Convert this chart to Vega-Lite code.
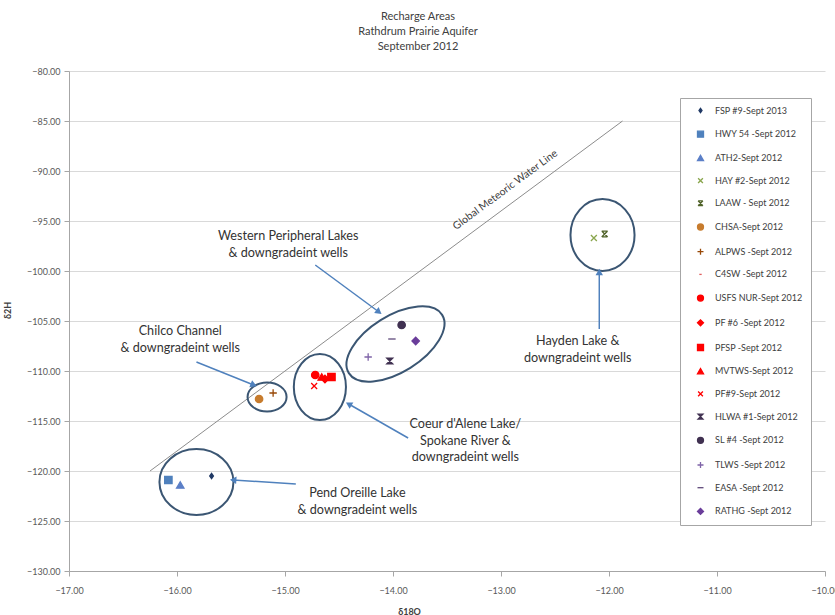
{
  "$schema": "https://vega.github.io/schema/vega-lite/v6.json",
  "width": 756,
  "height": 500,
  "autosize": {"type": "none"},
  "padding": {"left": 69, "top": 71, "right": 10, "bottom": 44},
  "background": "white",
  "config": {"view": {"stroke": null}, "font": "Lato"},
  "title": {
    "text": ["Recharge Areas", "Rathdrum  Prairie Aquifer", "September  2012"],
    "fontSize": 11,
    "fontWeight": "normal",
    "font": "Lato",
    "color": "#404040",
    "lineHeight": 15,
    "anchor": "middle",
    "dx": -29,
    "offset": 15
  },
  "datasets": {
    "samples": [
      {"series": "FSP #9-Sept 2013", "d18O": -15.68, "d2H": -120.5},
      {"series": "HWY 54 -Sept 2012", "d18O": -16.08, "d2H": -120.9},
      {"series": "ATH2-Sept 2012", "d18O": -15.97, "d2H": -121.4},
      {"series": "HAY #2-Sept 2012", "d18O": -12.14, "d2H": -96.7},
      {"series": "LAAW - Sept 2012", "d18O": -12.04, "d2H": -96.3},
      {"series": "CHSA-Sept 2012", "d18O": -15.24, "d2H": -112.8},
      {"series": "ALPWS -Sept 2012", "d18O": -15.11, "d2H": -112.2},
      {"series": "C4SW -Sept 2012", "d18O": -14.6, "d2H": -110.9},
      {"series": "USFS NUR-Sept 2012", "d18O": -14.72, "d2H": -110.4},
      {"series": "PF #6 -Sept 2012", "d18O": -14.63, "d2H": -110.8},
      {"series": "PFSP -Sept 2012", "d18O": -14.57, "d2H": -110.6},
      {"series": "MVTWS-Sept 2012", "d18O": -14.66, "d2H": -110.6},
      {"series": "PF#9-Sept 2012", "d18O": -14.73, "d2H": -111.5},
      {"series": "HLWA #1-Sept 2012", "d18O": -14.03, "d2H": -109.0},
      {"series": "SL #4 -Sept 2012", "d18O": -13.92, "d2H": -105.4},
      {"series": "TLWS -Sept 2012", "d18O": -14.23, "d2H": -108.6},
      {"series": "EASA -Sept 2012", "d18O": -14.01, "d2H": -106.8},
      {"series": "RATHG -Sept 2012", "d18O": -13.79, "d2H": -107.0}
    ],
    "gmwl": [
      {"d18O": -16.25, "d2H": -120},
      {"d18O": -11.875, "d2H": -85}
    ],
    "ellipses": [
      {"name": "pend", "d18O": -15.82, "d2H": -121.1},
      {"name": "chilco", "d18O": -15.166, "d2H": -112.6},
      {"name": "coeur", "d18O": -14.677, "d2H": -111.6},
      {"name": "western", "d18O": -13.977, "d2H": -107.3},
      {"name": "hayden", "d18O": -12.06, "d2H": -96.4}
    ],
    "arrows": [
      {"id": "western", "d18O": -14.72, "d2H": -99.4, "d18O_end": -14.13, "d2H_end": -104.1},
      {"id": "chilco", "d18O": -15.82, "d2H": -109.1, "d18O_end": -15.29, "d2H_end": -111.4},
      {"id": "coeur", "d18O": -13.86, "d2H": -116.7, "d18O_end": -14.41, "d2H_end": -113.3},
      {"id": "pend", "d18O": -14.9, "d2H": -121.3, "d18O_end": -15.48, "d2H_end": -120.9},
      {"id": "hayden", "d18O": -12.09, "d2H": -105.8, "d18O_end": -12.09, "d2H_end": -100.1}
    ],
    "notes": [
      {"label": "Western Peripheral Lakes\n& downgradeint wells", "d18O": -14.97, "d2H": -95.9},
      {"label": "Chilco Channel\n& downgradeint wells", "d18O": -15.97, "d2H": -105.4},
      {"label": "Coeur d'Alene Lake/\nSpokane River &\ndowngradeint wells", "d18O": -13.33, "d2H": -114.7},
      {"label": "Pend Oreille Lake\n& downgradeint wells", "d18O": -14.33, "d2H": -121.6},
      {"label": "Hayden Lake &\ndowngradeint wells", "d18O": -12.29, "d2H": -106.4}
    ],
    "lineLabel": [
      {"label": "Global Meteoric Water Line", "d18O": -12.96, "d2H": -91.9}
    ]
  },
  "layer": [
    {
      "data": {"name": "gmwl"},
      "mark": {"type": "line", "color": "#8c8c8c", "strokeWidth": 1},
      "encoding": {
        "x": {
          "field": "d18O", "type": "quantitative",
          "scale": {"domain": [-17, -10], "nice": false, "zero": false},
          "axis": {
            "values": [-17, -16, -15, -14, -13, -12, -11, -10],
            "format": ".2f", "grid": false, "title": "δ18O",
            "titleFontSize": 9, "titleFontWeight": "bold", "titleColor": "#404040",
            "titleX": 340, "titleY": 36,
            "labelFontSize": 9, "labelColor": "#595959", "labelFlush": false,
            "domainColor": "#a6a6a6", "tickColor": "#a6a6a6", "tickSize": 5, "labelPadding": 10
          }
        },
        "y": {
          "field": "d2H", "type": "quantitative",
          "scale": {"domain": [-130, -80], "nice": false, "zero": false},
          "axis": {
            "values": [-130, -125, -120, -115, -110, -105, -100, -95, -90, -85, -80],
            "format": ".2f", "grid": true, "gridColor": "#d9d9d9", "title": "δ2H",
            "titleFontSize": 9, "titleFontWeight": "bold", "titleColor": "#404040",
            "titleX": -57, "titleY": 239,
            "labelFontSize": 9, "labelColor": "#595959",
            "domainColor": "#a6a6a6", "tickColor": "#a6a6a6", "tickSize": 5, "labelPadding": 4
          }
        }
      }
    },
    {
      "mark": {"type": "rule", "color": "#bfbfbf", "strokeWidth": 1},
      "encoding": {"x": {"datum": -10}}
    },
    {
      "data": {"name": "ellipses"},
      "transform": [{"filter": "datum.name === 'pend'"}],
      "mark": {"type": "point", "filled": false, "stroke": "#3b5673", "strokeWidth": 2, "opacity": 1,
               "shape": "M-1,0A1,0.89,0,1,0,1,0A1,0.89,0,1,0,-1,0Z", "size": 5476},
      "encoding": {"x": {"field": "d18O", "type": "quantitative"}, "y": {"field": "d2H", "type": "quantitative"}}
    },
    {
      "data": {"name": "ellipses"},
      "transform": [{"filter": "datum.name === 'chilco'"}],
      "mark": {"type": "point", "filled": false, "stroke": "#3b5673", "strokeWidth": 2, "opacity": 1,
               "shape": "M-1,0A1,0.74,0,1,0,1,0A1,0.74,0,1,0,-1,0Z", "size": 1521},
      "encoding": {"x": {"field": "d18O", "type": "quantitative"}, "y": {"field": "d2H", "type": "quantitative"}}
    },
    {
      "data": {"name": "ellipses"},
      "transform": [{"filter": "datum.name === 'coeur'"}],
      "mark": {"type": "point", "filled": false, "stroke": "#3b5673", "strokeWidth": 2, "opacity": 1,
               "shape": "M-0.79,0A0.79,1,0,1,0,0.79,0A0.79,1,0,1,0,-0.79,0Z", "size": 4356},
      "encoding": {"x": {"field": "d18O", "type": "quantitative"}, "y": {"field": "d2H", "type": "quantitative"}}
    },
    {
      "data": {"name": "ellipses"},
      "transform": [{"filter": "datum.name === 'western'"}],
      "mark": {"type": "point", "filled": false, "stroke": "#3b5673", "strokeWidth": 2, "opacity": 1,
               "shape": "M-1,0A1,0.51,0,1,0,1,0A1,0.51,0,1,0,-1,0Z", "size": 12100, "angle": 328},
      "encoding": {"x": {"field": "d18O", "type": "quantitative"}, "y": {"field": "d2H", "type": "quantitative"}}
    },
    {
      "data": {"name": "ellipses"},
      "transform": [{"filter": "datum.name === 'hayden'"}],
      "mark": {"type": "point", "filled": false, "stroke": "#3b5673", "strokeWidth": 2, "opacity": 1,
               "shape": "M-0.89,0A0.89,1,0,1,0,0.89,0A0.89,1,0,1,0,-0.89,0Z", "size": 5184},
      "encoding": {"x": {"field": "d18O", "type": "quantitative"}, "y": {"field": "d2H", "type": "quantitative"}}
    },
    {
      "data": {"name": "arrows"},
      "mark": {"type": "rule", "color": "#4f81bd", "strokeWidth": 1.5},
      "encoding": {
        "x": {"field": "d18O", "type": "quantitative"},
        "y": {"field": "d2H", "type": "quantitative"},
        "x2": {"field": "d18O_end"},
        "y2": {"field": "d2H_end"}
      }
    },
    {
      "data": {"name": "arrows"},
      "transform": [{"filter": "datum.id === 'western'"}],
      "mark": {"type": "point", "shape": "triangle-up", "filled": true, "color": "#4f81bd", "opacity": 1, "size": 55, "angle": 127},
      "encoding": {"x": {"field": "d18O_end", "type": "quantitative"}, "y": {"field": "d2H_end", "type": "quantitative"}}
    },
    {
      "data": {"name": "arrows"},
      "transform": [{"filter": "datum.id === 'chilco'"}],
      "mark": {"type": "point", "shape": "triangle-up", "filled": true, "color": "#4f81bd", "opacity": 1, "size": 55, "angle": 112},
      "encoding": {"x": {"field": "d18O_end", "type": "quantitative"}, "y": {"field": "d2H_end", "type": "quantitative"}}
    },
    {
      "data": {"name": "arrows"},
      "transform": [{"filter": "datum.id === 'coeur'"}],
      "mark": {"type": "point", "shape": "triangle-up", "filled": true, "color": "#4f81bd", "opacity": 1, "size": 55, "angle": 300},
      "encoding": {"x": {"field": "d18O_end", "type": "quantitative"}, "y": {"field": "d2H_end", "type": "quantitative"}}
    },
    {
      "data": {"name": "arrows"},
      "transform": [{"filter": "datum.id === 'pend'"}],
      "mark": {"type": "point", "shape": "triangle-up", "filled": true, "color": "#4f81bd", "opacity": 1, "size": 55, "angle": 274},
      "encoding": {"x": {"field": "d18O_end", "type": "quantitative"}, "y": {"field": "d2H_end", "type": "quantitative"}}
    },
    {
      "data": {"name": "arrows"},
      "transform": [{"filter": "datum.id === 'hayden'"}],
      "mark": {"type": "point", "shape": "triangle-up", "filled": true, "color": "#4f81bd", "opacity": 1, "size": 55, "angle": 0},
      "encoding": {"x": {"field": "d18O_end", "type": "quantitative"}, "y": {"field": "d2H_end", "type": "quantitative"}}
    },
    {
      "data": {"name": "notes"},
      "mark": {"type": "text", "font": "Lato", "fontSize": 12.6, "color": "#333333", "align": "center", "baseline": "top", "lineBreak": "\n", "lineHeight": 16.5},
      "encoding": {
        "x": {"field": "d18O", "type": "quantitative"},
        "y": {"field": "d2H", "type": "quantitative"},
        "text": {"field": "label"}
      }
    },
    {
      "data": {"name": "lineLabel"},
      "mark": {"type": "text", "font": "Lato", "fontSize": 10.5, "color": "#404040", "align": "center", "baseline": "middle", "angle": 323.5},
      "encoding": {
        "x": {"field": "d18O", "type": "quantitative"},
        "y": {"field": "d2H", "type": "quantitative"},
        "text": {"field": "label"}
      }
    },
    {
      "data": {"name": "samples"},
      "mark": {"type": "point", "filled": true, "opacity": 1, "size": 55, "strokeWidth": 1.3},
      "encoding": {
        "x": {"field": "d18O", "type": "quantitative"},
        "y": {"field": "d2H", "type": "quantitative"},
        "fill": {
          "field": "series", "type": "nominal",
          "scale": {
            "domain": ["FSP #9-Sept 2013", "HWY 54 -Sept 2012", "ATH2-Sept 2012", "HAY #2-Sept 2012", "LAAW - Sept 2012", "CHSA-Sept 2012", "ALPWS -Sept 2012", "C4SW -Sept 2012", "USFS NUR-Sept 2012", "PF #6 -Sept 2012", "PFSP -Sept 2012", "MVTWS-Sept 2012", "PF#9-Sept 2012", "HLWA #1-Sept 2012", "SL #4 -Sept 2012", "TLWS -Sept 2012", "EASA -Sept 2012", "RATHG -Sept 2012"],
            "range": ["#1f3864", "#4f81bd", "#5b7fc7", "#8aa64e", "#4f6228", "#c77c2e", "#984807", "#e06060", "#ff0000", "#ff0000", "#ff0000", "#ff0000", "#ff0000", "#403151", "#403151", "#7f64a8", "#5f497a", "#6a3d9a"]
          },
          "legend": {
            "title": null, "orient": "none", "legendX": 611, "legendY": 27,
            "padding": 8, "strokeColor": "#a6a6a6", "fillColor": "white",
            "labelFontSize": 9, "labelFont": "Lato", "labelColor": "#404040",
            "symbolSize": 36, "symbolStrokeWidth": 1.3, "rowPadding": 11.7,
            "labelOffset": 10, "symbolOffset": 8, "labelLimit": 200
          }
        },
        "stroke": {
          "field": "series", "type": "nominal",
          "scale": {
            "domain": ["FSP #9-Sept 2013", "HWY 54 -Sept 2012", "ATH2-Sept 2012", "HAY #2-Sept 2012", "LAAW - Sept 2012", "CHSA-Sept 2012", "ALPWS -Sept 2012", "C4SW -Sept 2012", "USFS NUR-Sept 2012", "PF #6 -Sept 2012", "PFSP -Sept 2012", "MVTWS-Sept 2012", "PF#9-Sept 2012", "HLWA #1-Sept 2012", "SL #4 -Sept 2012", "TLWS -Sept 2012", "EASA -Sept 2012", "RATHG -Sept 2012"],
            "range": ["#1f3864", "#4f81bd", "#5b7fc7", "#8aa64e", "#4f6228", "#c77c2e", "#984807", "#e06060", "#ff0000", "#ff0000", "#ff0000", "#ff0000", "#ff0000", "#403151", "#403151", "#7f64a8", "#5f497a", "#6a3d9a"]
          }
        },
        "shape": {
          "field": "series", "type": "nominal",
          "scale": {
            "domain": ["FSP #9-Sept 2013", "HWY 54 -Sept 2012", "ATH2-Sept 2012", "HAY #2-Sept 2012", "LAAW - Sept 2012", "CHSA-Sept 2012", "ALPWS -Sept 2012", "C4SW -Sept 2012", "USFS NUR-Sept 2012", "PF #6 -Sept 2012", "PFSP -Sept 2012", "MVTWS-Sept 2012", "PF#9-Sept 2012", "HLWA #1-Sept 2012", "SL #4 -Sept 2012", "TLWS -Sept 2012", "EASA -Sept 2012", "RATHG -Sept 2012"],
            "range": [
              "M0,-0.7L0.5,0L0,0.7L-0.5,0Z",
              "square",
              "triangle-up",
              "M-0.8,-0.8L0.8,0.8M-0.8,0.8L0.8,-0.8",
              "M-0.8,-0.8L0.8,0.8M-0.8,0.8L0.8,-0.8M-0.8,-0.8L0.8,-0.8M-0.8,0.8L0.8,0.8",
              "circle",
              "M-1,0L1,0M0,-1L0,1",
              "M-0.4,0L0.4,0",
              "circle",
              "diamond",
              "square",
              "triangle-up",
              "M-0.8,-0.8L0.8,0.8M-0.8,0.8L0.8,-0.8",
              "M-0.8,-0.8L0.8,-0.8L-0.8,0.8L0.8,0.8Z",
              "circle",
              "M-1,0L1,0M0,-1L0,1",
              "M-1,0L1,0",
              "diamond"
            ]
          }
        }
      }
    }
  ]
}
